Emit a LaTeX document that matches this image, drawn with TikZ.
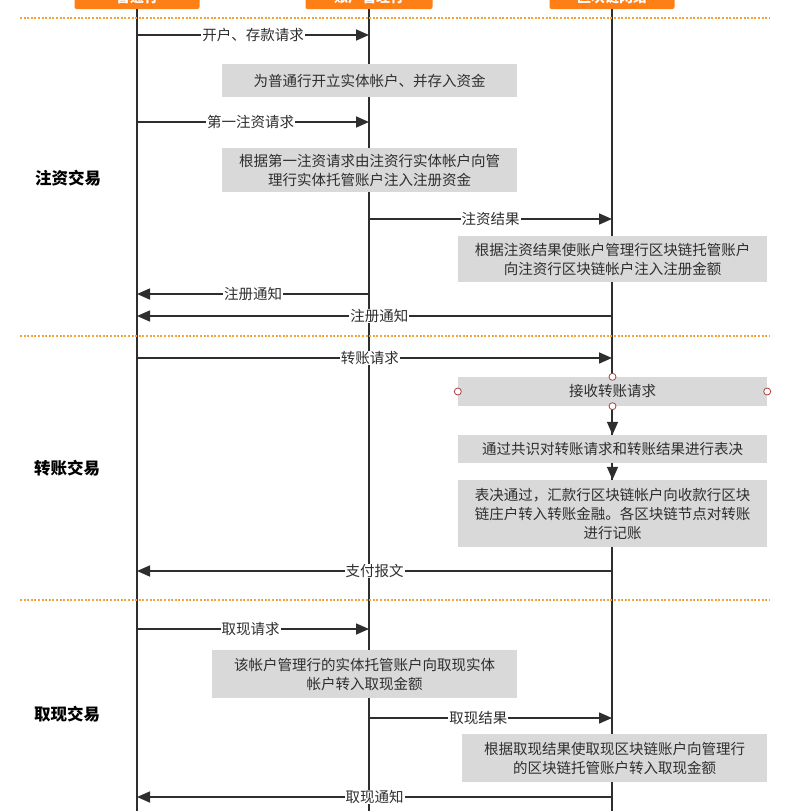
\documentclass[tikz,border=0pt]{standalone}
\usepackage{fontspec}
\setmainfont{Noto Sans CJK SC}
\usepackage{xcolor}
\usetikzlibrary{positioning, arrows.meta, calc}
\definecolor{laneorange}{HTML}{FF7F17}
\definecolor{sepline}{HTML}{F2A43A}
\definecolor{boxgrey}{HTML}{D9D9D9}
\definecolor{inkgrey}{HTML}{2E2E2E}
\definecolor{handlered}{HTML}{B04040}
\tikzset{
  lane/.style={fill=laneorange, text=white, rounded corners=2pt, minimum width=125pt,
               minimum height=24pt, font=\fontsize{14}{16}\selectfont\bfseries},
  lifeline/.style={draw=inkgrey, line width=1.6pt},
  sepdots/.style={draw=sepline, line width=2pt, dash pattern=on 2pt off 1.6pt},
  notebox/.style={fill=boxgrey, text=inkgrey, align=center, inner sep=0pt,
                  font=\fontsize{14.5}{19}\selectfont},
  msg/.style={draw=inkgrey, line width=1.6pt, -{Triangle[length=13pt,width=11pt]}},
  msglabel/.style={fill=white, text=inkgrey, inner xsep=1pt, inner ysep=0pt,
                   font=\fontsize{14.5}{16}\selectfont},
  phase/.style={text=black, font=\fontsize{16.5}{18}\selectfont\bfseries},
  handle/.style={circle, draw=handlered, fill=white, inner sep=0pt, minimum size=7pt, line width=0.8pt}
}

\begin{document}
\begin{tikzpicture}[x=1pt, y=-1pt]
  \useasboundingbox (0,0) rectangle (785,811);

  \node[lane] (ptbank) at (137,-3) {普通行};
  \node[lane, minimum width=127pt] (mgbank) at (369,-3) {账户管理行};
  \node[lane] (chain) at (612,-3) {区块链网络};

  \coordinate (ptend) at (ptbank |- 0,815);
  \coordinate (mgend) at (mgbank |- 0,815);
  \coordinate (chend) at (chain |- 0,815);
  \draw[lifeline] (ptbank) -- (ptend);
  \draw[lifeline] (mgbank) -- (mgend);
  \draw[lifeline] (chain) -- (chend);

  \draw[sepdots] (20,18) -- (770,18);
  \draw[sepdots] (20,336) -- (770,336);
  \draw[sepdots] (20,600) -- (770,600);

  \node[phase] (injphase) at (68,178) {注资交易};
  \node[phase] (trphase) at (67,468) {转账交易};
  \node[phase] (wdphase) at (67,714) {取现交易};

  \node[notebox, minimum width=295pt, minimum height=33pt] (openacc) at (369.5,80.5)
    {为普通行开立实体帐户、并存入资金};
  \node[notebox, minimum width=295pt, minimum height=44pt] (inject) at (369.5,170)
    {根据第一注资请求由注资行实体帐户向管\\理行实体托管账户注入注册资金};
  \node[notebox, minimum width=309pt, minimum height=46pt] (chaininj) at (612.5,259)
    {根据注资结果使账户管理行区块链托管账户\\向注资行区块链帐户注入注册金额};
  \node[notebox, minimum width=309pt, minimum height=29pt] (recv) at (612.5,391.5)
    {接收转账请求};
  \node[notebox, minimum width=309pt, minimum height=28pt] (vote) at (612.5,449)
    {通过共识对转账请求和转账结果进行表决};
  \node[notebox, minimum width=309pt, minimum height=67pt] (book) at (612.5,513.5)
    {表决通过，汇款行区块链帐户向收款行区块\\链庄户转入转账金融。各区块链节点对转账\\进行记账};
  \node[notebox, minimum width=305pt, minimum height=48pt] (payout) at (364.5,674)
    {该帐户管理行的实体托管账户向取现实体\\帐户转入取现金额};
  \node[notebox, minimum width=305pt, minimum height=48pt] (chainout) at (614.5,758)
    {根据取现结果使取现区块链账户向管理行\\的区块链托管账户转入取现金额};

  \node[handle] (recvn) at (recv.north) {};
  \node[handle] (recvs) at (recv.south) {};
  \node[handle] (recvw) at (recv.west) {};
  \node[handle] (recve) at (recv.east) {};
  \draw[msg] (recvs) -- (vote);
  \draw[msg] (vote) -- (book);

  \coordinate (open1) at (ptbank |- 0,35);
  \coordinate (open2) at (mgbank |- 0,35);
  \coordinate (first1) at (ptbank |- 0,122);
  \coordinate (first2) at (mgbank |- 0,122);
  \coordinate (res1) at (mgbank |- 0,219);
  \coordinate (res2) at (chain |- 0,219);
  \coordinate (reg1) at (mgbank |- 0,294);
  \coordinate (reg2) at (ptbank |- 0,294);
  \coordinate (creg1) at (chain |- 0,316);
  \coordinate (creg2) at (ptbank |- 0,316);
  \coordinate (tr1) at (ptbank |- 0,358);
  \coordinate (tr2) at (chain |- 0,358);
  \coordinate (pay1) at (chain |- 0,571);
  \coordinate (pay2) at (ptbank |- 0,571);
  \coordinate (wd1) at (ptbank |- 0,629);
  \coordinate (wd2) at (mgbank |- 0,629);
  \coordinate (wdres1) at (mgbank |- 0,718);
  \coordinate (wdres2) at (chain |- 0,718);
  \coordinate (wdn1) at (chain |- 0,797);
  \coordinate (wdn2) at (ptbank |- 0,797);

  \draw[msg] (open1) -- node[msglabel] (openlbl) {开户、存款请求} (open2);
  \draw[msg] (first1) -- node[msglabel, pos=0.49] (firstlbl) {第一注资请求} (first2);
  \draw[msg] (res1) -- node[msglabel] (reslbl) {注资结果} (res2);
  \draw[msg] (reg1) -- node[msglabel] (reglbl) {注册通知} (reg2);
  \draw[msg] (creg1) -- node[msglabel, pos=0.49] (creglbl) {注册通知} (creg2);
  \draw[msg] (tr1) -- node[msglabel, pos=0.49] (trlbl) {转账请求} (tr2);
  \draw[msg] (pay1) -- node[msglabel] (paylbl) {支付报文} (pay2);
  \draw[msg] (wd1) -- node[msglabel, pos=0.49] (wdlbl) {取现请求} (wd2);
  \draw[msg] (wdres1) -- node[msglabel, pos=0.45] (wdreslbl) {取现结果} (wdres2);
  \draw[msg] (wdn1) -- node[msglabel] (wdnlbl) {取现通知} (wdn2);
\end{tikzpicture}
\end{document}
